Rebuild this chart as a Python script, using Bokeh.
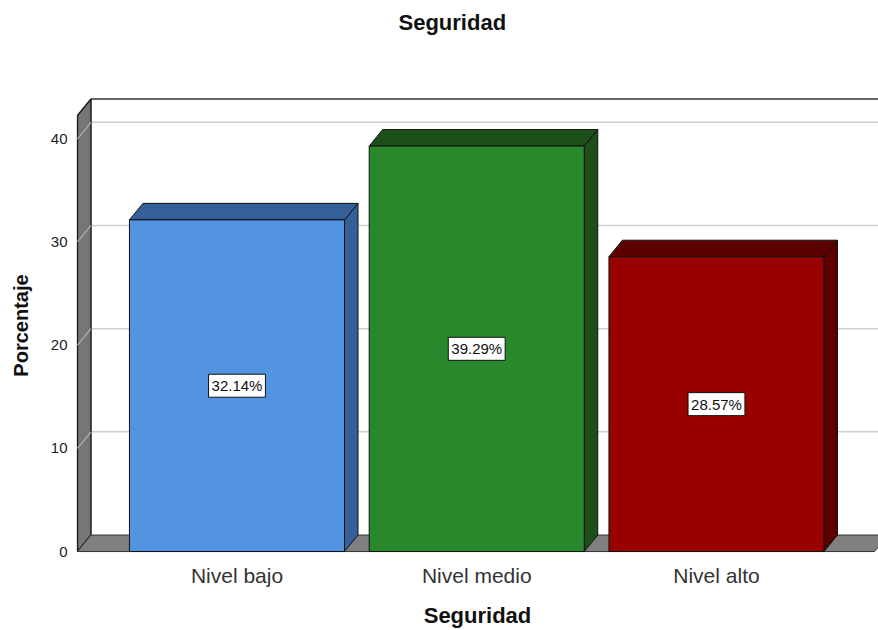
from bokeh.plotting import figure
from bokeh.models import Range1d, FixedTicker, ColumnDataSource, Title
from bokeh.core.properties import value
from bokeh.embed import file_html
from bokeh.resources import INLINE

# ---- data ----
categories = ["Nivel bajo", "Nivel medio", "Nivel alto"]
percentages = [32.14, 39.29, 28.57]
y_ticks = [0, 10, 20, 30, 40]
front_colors = ["#5294e2", "#29882b", "#990000"]
shade_colors = ["#355f98", "#1c4f1a", "#5c0000"]

# ---- styling / geometry (pseudo 3D) ----
FONT = "Liberation Sans"
DX = 0.0563      # depth offset in x units
DY = 1.6         # depth offset in y units
BAR_W = 0.897
X_WALL = -0.1653
X_FLOOR_END = 3.159
Y_TOP = 42.26
X_START, X_END = -0.1694, 3.1758
Y_START, Y_END = -0.19, 44.0

xs = [i + 0.5 for i in range(len(categories))]

p = figure(width=878, height=630,
           x_range=Range1d(X_START, X_END), y_range=Range1d(Y_START, Y_END),
           output_backend="svg", toolbar_location=None,
           min_border_left=76, min_border_right=0,
           min_border_top=97, min_border_bottom=76)
p.outline_line_color = None
p.xgrid.visible = False
p.ygrid.visible = False
p.background_fill_color = "white"
p.border_fill_color = "white"

# spacer between frame and title (pushes the title up)
p.add_layout(Title(text=" ", text_font_size="50px", standoff=0), "above")
p.title = Title(text="Seguridad", align="left", offset=322, standoff=10,
                text_font=FONT, text_font_size="22px", text_font_style="bold",
                text_color="#111111")

# back wall top edge and gridlines
bx = X_WALL + DX
p.segment(x0=[bx], y0=[Y_TOP + DY], x1=[X_END + 0.2], y1=[Y_TOP + DY],
          line_color="#333333", line_width=1.5)
grid_vals = [t for t in y_ticks if t > 0]
p.segment(x0=[bx] * len(grid_vals), y0=[t + DY for t in grid_vals],
          x1=[X_END + 0.2] * len(grid_vals), y1=[t + DY for t in grid_vals],
          line_color="#cfcfcf", line_width=1.5)

# left wall
p.patch(x=[X_WALL, X_WALL, bx, bx], y=[0, Y_TOP, Y_TOP + DY, DY],
        fill_color="#767676", line_color="#1a1a1a", line_width=1.5)
p.segment(x0=[X_WALL] * len(grid_vals), y0=grid_vals,
          x1=[bx] * len(grid_vals), y1=[t + DY for t in grid_vals],
          line_color="#b0b0b0", line_width=1.2)

# floor
p.patch(x=[X_WALL, X_FLOOR_END, X_FLOOR_END + DX, bx], y=[0, 0, DY, DY],
        fill_color="#808080", line_color="#333333", line_width=1)

# bars
lefts = [x - BAR_W / 2 for x in xs]
rights = [x + BAR_W / 2 for x in xs]
side_x = [[r, r + DX, r + DX, r] for r in rights]
side_y = [[0, DY, v + DY, v] for v in percentages]
top_x = [[l, r, r + DX, l + DX] for l, r in zip(lefts, rights)]
top_y = [[v, v, v + DY, v + DY] for v in percentages]

p.patches(xs=side_x, ys=side_y, fill_color=shade_colors, line_color="#111111", line_width=1)
p.patches(xs=top_x, ys=top_y, fill_color=shade_colors, line_color="#111111", line_width=1)
p.quad(left=lefts, right=rights, bottom=[0] * len(xs), top=percentages,
       fill_color=front_colors, line_color="#111111", line_width=1)

# value labels
lab = ColumnDataSource(dict(x=xs, y=[v / 2 for v in percentages],
                            t=[f"{v:.2f}%" for v in percentages]))
p.text(x="x", y="y", text="t", source=lab,
       text_font=value(FONT), text_font_size="15px", text_color="#111111",
       text_align="center", text_baseline="middle",
       background_fill_color="white", border_line_color="#111111",
       border_line_width=1, padding=3)

# axes
p.xaxis.ticker = FixedTicker(ticks=xs)
p.xaxis.major_label_overrides = {x: c for x, c in zip(xs, categories)}
p.xaxis.axis_label = "Seguridad"
p.yaxis.ticker = FixedTicker(ticks=y_ticks)
p.yaxis.axis_label = "Porcentaje"
for ax in (p.xaxis, p.yaxis):
    ax.axis_line_color = None
    ax.major_tick_line_color = None
    ax.minor_tick_line_color = None
    ax.major_tick_out = 0
    ax.major_tick_in = 0
    ax.minor_tick_out = 0
    ax.minor_tick_in = 0
    ax.axis_label_text_font = FONT
    ax.axis_label_text_font_style = "bold"
    ax.axis_label_text_color = "#111111"
    ax.major_label_text_font = FONT
p.xaxis.axis_label_text_font_size = "22px"
p.yaxis.axis_label_text_font_size = "20px"
p.xaxis.major_label_text_font_size = "21px"
p.xaxis.major_label_text_color = "#333333"
p.xaxis.major_label_standoff = 10
p.xaxis.axis_label_standoff = 13
p.yaxis.major_label_text_font_size = "15px"
p.yaxis.major_label_text_color = "#222222"
p.yaxis.major_label_standoff = 9
p.yaxis.axis_label_standoff = 16

open("out.html", "w").write(file_html(p, INLINE))
